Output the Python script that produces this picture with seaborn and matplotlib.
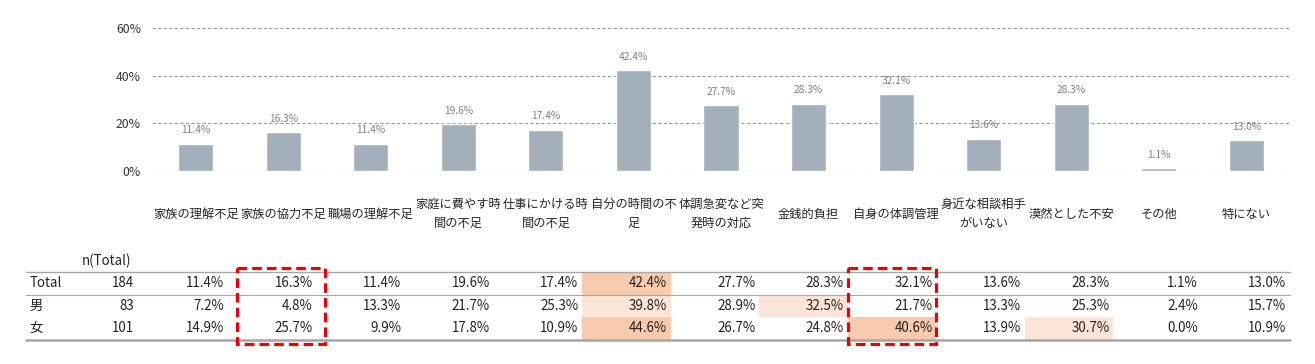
import matplotlib
matplotlib.use("Agg")
import matplotlib.pyplot as plt
from matplotlib.patches import Rectangle
import numpy as np
import pandas as pd
import seaborn as sns

# chart data
categories = ["家族の理解不足", "家族の協力不足", "職場の理解不足", "家庭に費やす時\n間の不足",
              "仕事にかける時\n間の不足", "自分の時間の不\n足", "体調急変など突\n発時の対応",
              "金銭的負担", "自身の体調管理", "身近な相談相手\nがいない", "漠然とした不安",
              "その他", "特にない"]
total_pct = [11.4, 16.3, 11.4, 19.6, 17.4, 42.4, 27.7, 28.3, 32.1, 13.6, 28.3, 1.1, 13.0]
male_pct = [7.2, 4.8, 13.3, 21.7, 25.3, 39.8, 28.9, 32.5, 21.7, 13.3, 25.3, 2.4, 15.7]
female_pct = [14.9, 25.7, 9.9, 17.8, 10.9, 44.6, 26.7, 24.8, 40.6, 13.9, 30.7, 0.0, 10.9]
row_labels = ["Total", "男", "女"]
row_n = [184, 83, 101]
yticks = [0, 20, 40, 60]
# highlighted cells: (row, col, level)  level 2 = strong, 1 = light
highlights = [(0, 5, 2), (1, 5, 1), (1, 7, 1), (2, 5, 2), (2, 8, 2), (2, 10, 1)]
boxed_cols = [1, 8]

sns.set_theme(style="white")
plt.rcParams["font.family"] = ["Noto Sans CJK JP", "DejaVu Sans"]

W, H = 1315, 364
fig = plt.figure(figsize=(W / 100, H / 100), dpi=100)

# ---- bar chart ----
ax = fig.add_axes([152 / W, 1 - 171 / H, (1290 - 152) / W, (171 - 28) / H])
df = pd.DataFrame({"cat": categories, "val": total_pct})
sns.barplot(data=df, x="cat", y="val", color="#A3B0BB", saturation=1, width=0.4, ax=ax)
ax.set_xlim(-0.5, len(categories) - 0.5)
ax.set_ylim(0, 60)
ax.set_yticks(yticks)
ax.set_yticklabels([f"{t}%" for t in yticks], fontsize=8.8, color="#333333")
ax.set_xlabel("")
ax.set_ylabel("")
for sp in ax.spines.values():
    sp.set_visible(False)
ax.grid(axis="y", color="#9A9A9A", linestyle=(0, (3, 2)), linewidth=0.8)
ax.set_axisbelow(True)
ax.tick_params(axis="y", length=0, pad=8)
ax.tick_params(axis="x", length=0, pad=31, labelsize=8.8)
for lab in ax.get_xticklabels():
    lab.set_va("center")
    lab.set_linespacing(1.6)
ax.bar_label(ax.containers[0], labels=[f"{v:.1f}%" for v in total_pct],
             padding=6, fontsize=7.3, color="#808080")

# ---- table ----
tb = fig.add_axes([139.5 / W, 1 - 345 / H, (1290 - 139.5) / W, (345 - 250) / H])
tb.set_xlim(-0.5, len(categories) - 0.5)
tb.set_ylim(2.744, -1.478)
tb.axis("off")

rows = [total_pct, male_pct, female_pct]
colors = {1: "#FCE4D6", 2: "#F8CBAD"}
for r, c, lvl in highlights:
    tb.add_patch(Rectangle((c - 0.5, r - 0.5), 1, 1, facecolor=colors[lvl], edgecolor="none", zorder=0))

fs = 9.6
for r, vals in enumerate(rows):
    tb.text(-1.74, r, row_labels[r], ha="left", va="center", fontsize=fs, color="#222222", clip_on=False)
    tb.text(-0.56, r, str(row_n[r]), ha="right", va="center", fontsize=fs, color="#222222", clip_on=False)
    for c, v in enumerate(vals):
        tb.text(c + 0.46, r, f"{v:.1f}%", ha="right", va="center", fontsize=fs, color="#222222")
tb.text(-0.87, -1, "n(Total)", ha="center", va="center", fontsize=fs, color="#222222", clip_on=False)

x0, x1 = -1.78, len(categories) - 0.5
tb.plot([x0, x1], [-0.5, -0.5], color="#A6A6A6", lw=1, clip_on=False)
tb.plot([x0, x1], [0.5, 0.5], color="#A6A6A6", lw=0.8, clip_on=False)
tb.plot([x0, x1], [2.5, 2.5], color="#A6A6A6", lw=1.8, clip_on=False)

for i, c in enumerate(boxed_cols):
    shift = 0.1 if i == 0 else 0.0
    tb.add_patch(Rectangle((c - 0.5 + shift, -0.68), 1, 3.4, fill=False, edgecolor="#E8000B",
                           lw=2.3, linestyle=(0, (3, 1.6)), clip_on=False, zorder=5))

fig.savefig("out.png", dpi=100)
